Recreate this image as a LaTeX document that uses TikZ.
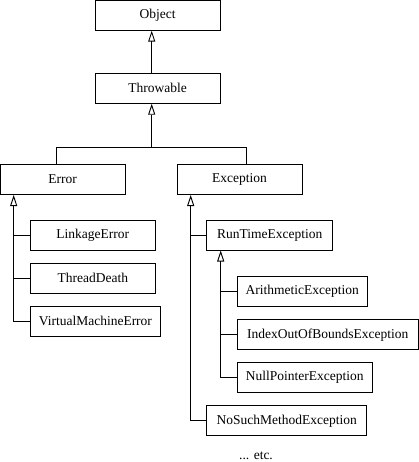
\documentclass[tikz,border=0pt]{standalone}
\usepackage{fontspec}
\setmainfont{Liberation Serif}
\usetikzlibrary{arrows.meta}
\begin{document}
\begin{tikzpicture}[x=1pt,y=-1pt,
  cls/.style={draw,line width=0.9pt,minimum height=30pt,inner sep=0pt,font=\fontsize{13.5}{15}\selectfont},
  inh/.style={line width=0.9pt,-{Triangle[open,length=11pt,width=7pt]}},
  ln/.style={line width=0.9pt}]
\useasboundingbox (0,0) rectangle (419,462);
\node[cls,minimum width=125pt] (object) at (157.7,15.2) {Object};
\node[cls,minimum width=125pt] (throwable) at (157.7,88.3) {Throwable};
\node[cls,minimum width=125pt] (error) at (62.7,179.6) {Error};
\node[cls,minimum width=125pt] (exception) at (239.5,179.6) {Exception};
\node[cls,minimum width=125pt] (linkage) at (92.8,235.5) {LinkageError};
\node[cls,minimum width=125pt] (thread) at (92.8,278.3) {ThreadDeath};
\node[cls,minimum width=130.5pt] (vme) at (95.4,321.3) {VirtualMachineError};
\node[cls,minimum width=126pt] (runtime) at (269.7,235.5) {RunTimeException};
\node[cls,minimum width=130pt] (arith) at (302.3,291.7) {ArithmeticException};
\node[cls,minimum width=181pt] (index) at (327.8,334.7) {IndexOutOfBoundsException};
\node[cls,minimum width=135pt] (nullp) at (304.8,377.5) {NullPointerException};
\node[cls,minimum width=160pt] (nosuch) at (286.7,420.8) {NoSuchMethodException};
\node[font=\fontsize{13.5}{15}\selectfont,inner sep=0pt] (etc) at (256,456) {... etc.};
% Throwable -> Object
\draw[inh] ([xshift=-6pt]throwable.north) -- ([xshift=-6pt]object.south);
% Error, Exception -> Throwable
\coordinate (j) at (151.7,147.3);
\draw[ln] ([xshift=-6.4pt]error.north) |- (j) -| ([xshift=6.8pt]exception.north);
\draw[inh] (j) -- ([xshift=-6pt]throwable.south);
% Error children
\coordinate (etip) at (13.7,195);
\draw[inh] (vme.west) -| (etip);
\draw[ln] (linkage.west) -- (linkage.west -| etip);
\draw[ln] (thread.west) -- (thread.west -| etip);
% Exception children
\coordinate (xtip) at (190.7,195);
\draw[inh] (nosuch.west) -| (xtip);
\draw[ln] (runtime.west) -- (runtime.west -| xtip);
% RunTimeException children
\coordinate (rtip) at (220.7,250.5);
\draw[inh] (nullp.west) -| (rtip);
\draw[ln] (arith.west) -- (arith.west -| rtip);
\draw[ln] (index.west) -- (index.west -| rtip);
\end{tikzpicture}
\end{document}
